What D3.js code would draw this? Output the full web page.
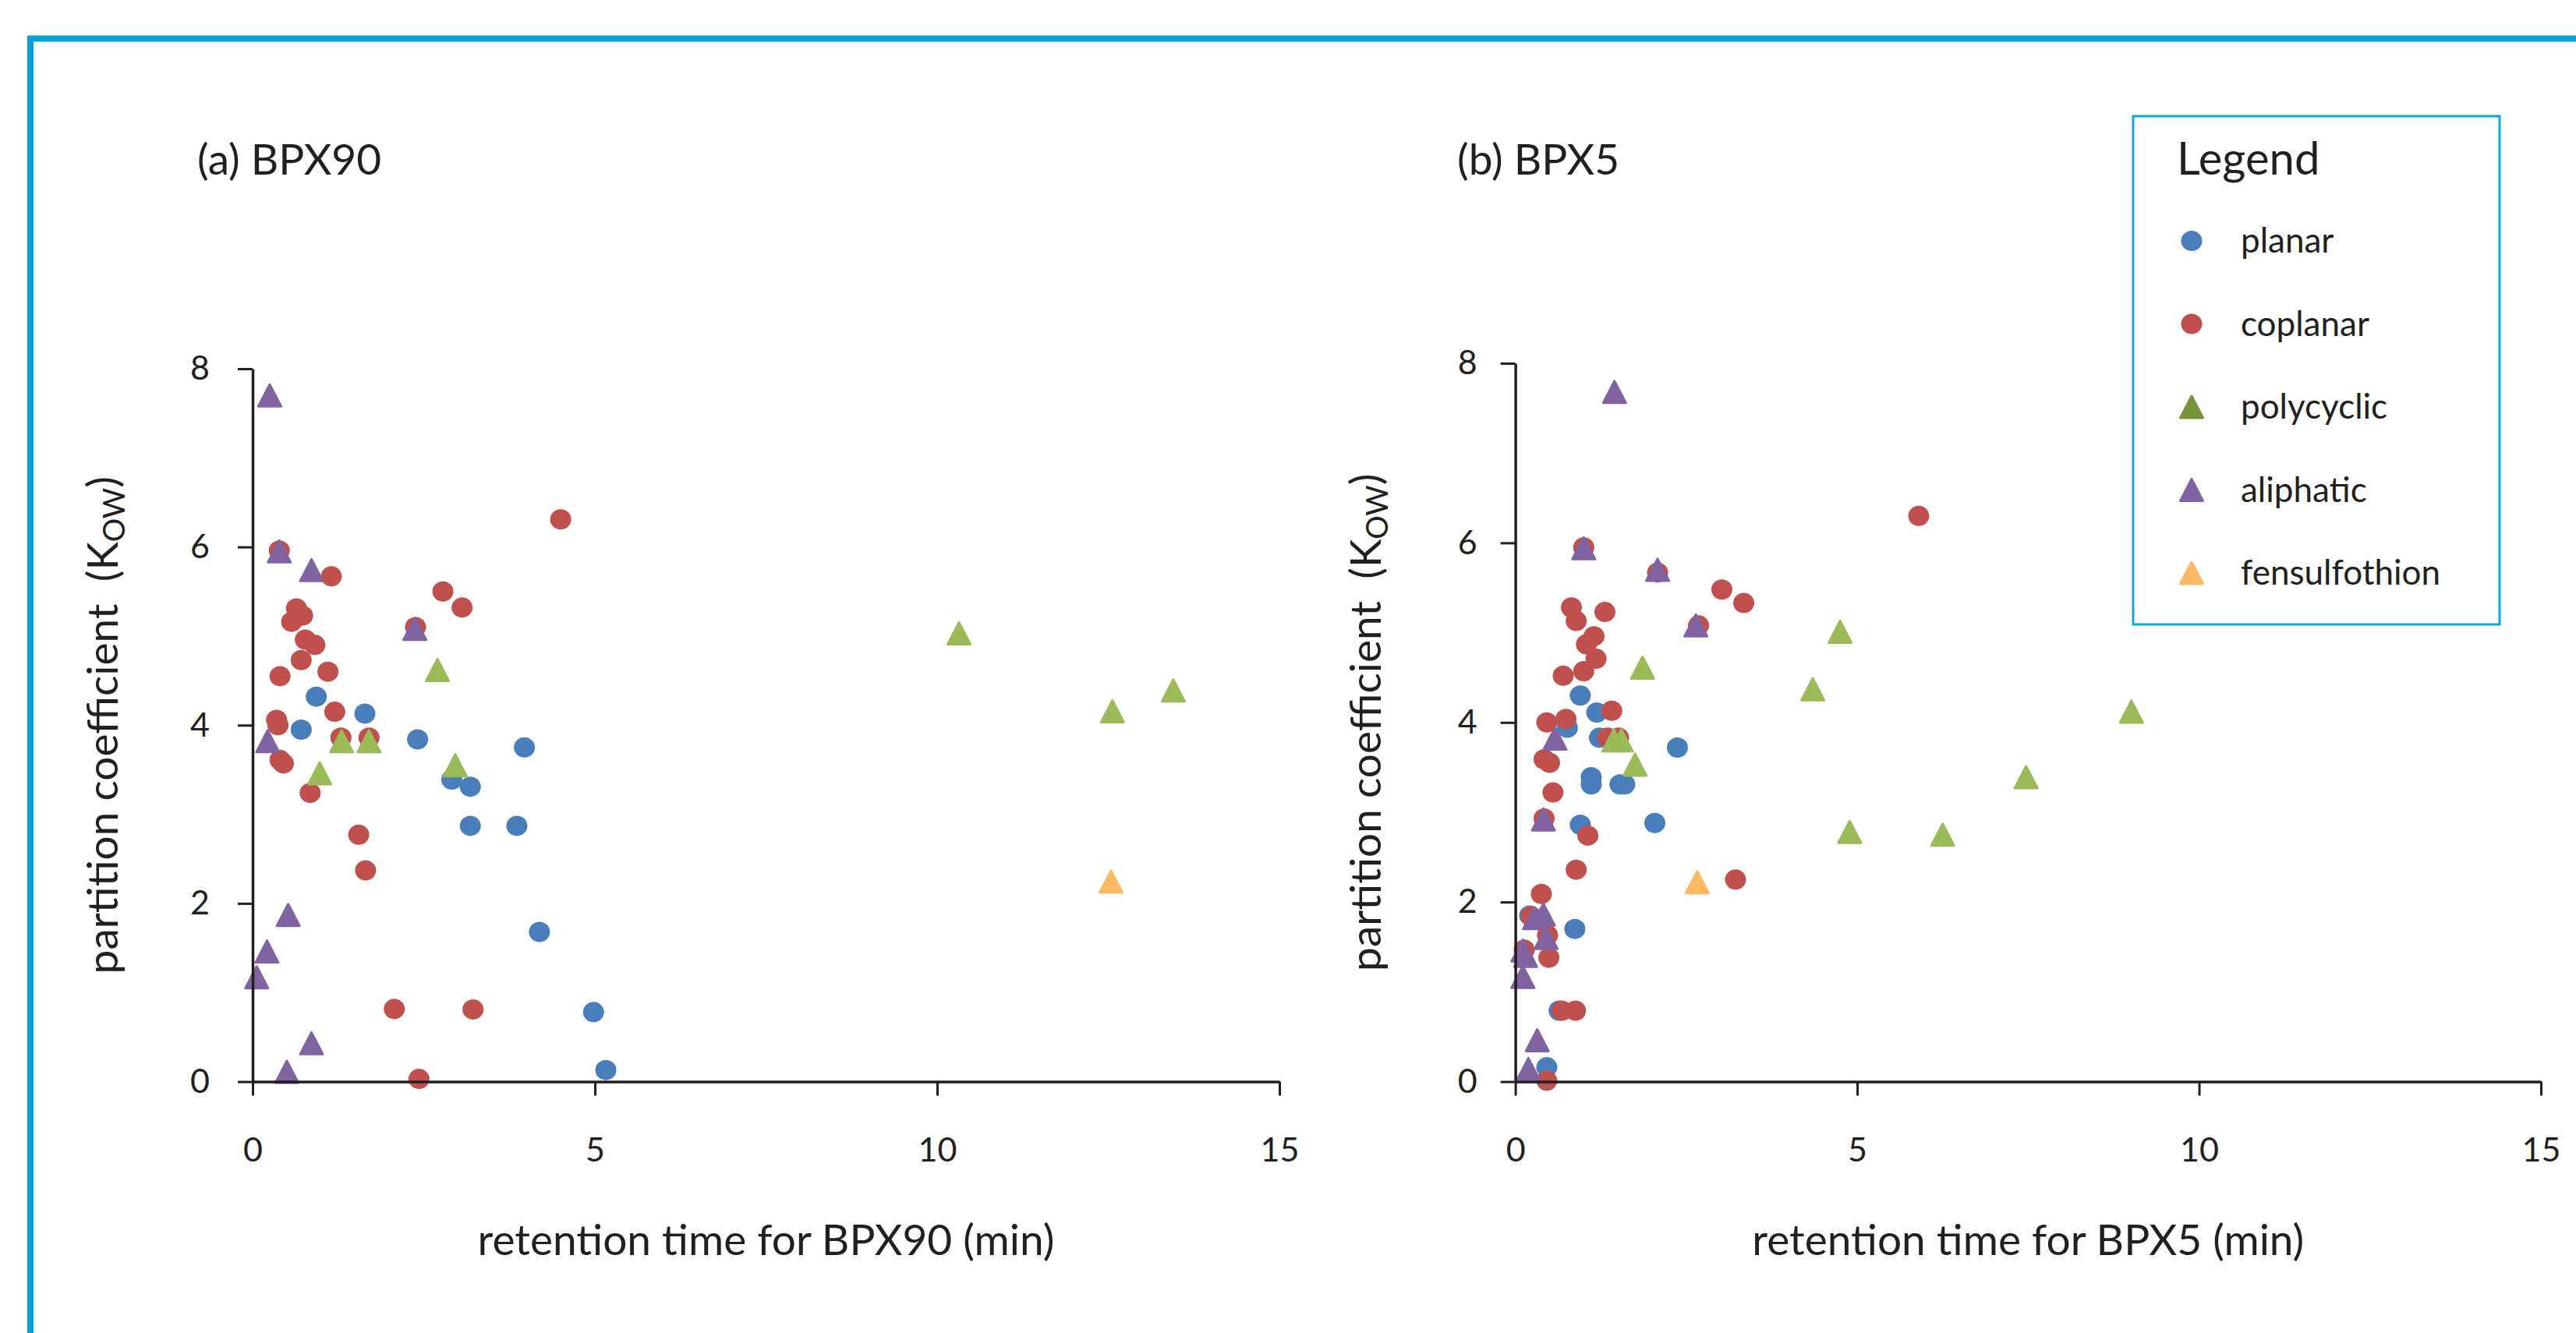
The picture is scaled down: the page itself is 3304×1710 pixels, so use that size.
<!DOCTYPE html>
<html><head><meta charset="utf-8">
<script src="https://cdn.jsdelivr.net/npm/d3@7"></script>
<style>
html,body{margin:0;padding:0;background:#fff;}
svg{display:block;}
text{font-family:Lato,"Open Sans",sans-serif;fill:#231F20;}
</style>
</head><body>
<svg id="chart" width="3304" height="1710"></svg>
<script>
// ---------- data ----------
const seriesNames = ["planar", "coplanar", "polycyclic", "aliphatic", "fensulfothion"];
const xTicks = [0, 5, 10, 15];
const yTicks = [0, 2, 4, 6, 8];
const panelTitles = ["(a) BPX90", "(b) BPX5"];
const xTitles = ["retention time for BPX90 (min)", "retention time for BPX5 (min)"];
const yTitle = ["partition coefficient \u00A0(K", "OW", ")"];

// (a) BPX90  [retention time, partition coefficient]
const bpx90Planar = [[0.93,4.32],[0.71,3.95],[1.64,4.13],[2.41,3.84],[2.91,3.39],[3.18,3.31],[3.18,2.87],[3.86,2.87],[3.97,3.75],[4.19,1.68],[4.98,0.78],[5.16,0.13]];
const bpx90Coplanar = [[0.39,5.96],[1.15,5.67],[0.64,5.31],[0.73,5.23],[0.57,5.16],[0.77,4.96],[0.91,4.90],[0.71,4.73],[1.10,4.60],[0.40,4.55],[1.20,4.15],[0.35,4.06],[0.37,4.00],[0.40,3.61],[0.45,3.57],[0.84,3.24],[1.29,3.86],[1.70,3.86],[2.38,5.10],[2.78,5.50],[3.06,5.32],[4.50,6.31],[1.55,2.77],[1.65,2.37],[2.07,0.815],[3.22,0.81],[2.43,0.03]];
const bpx90Polycyclic = [[1.30,3.82],[1.70,3.82],[0.98,3.46],[2.70,4.62],[2.96,3.55],[10.32,5.03],[12.56,4.155],[13.45,4.39]];
const bpx90Aliphatic = [[0.25,7.70],[0.39,5.95],[0.86,5.74],[2.37,5.08],[0.22,3.82],[0.52,1.87],[0.21,1.46],[0.06,1.17],[0.86,0.43],[0.50,0.11]];
const bpx90Fensulfothion = [[12.54,2.245]];

// (b) BPX5
const bpx5Planar = [[0.95,4.30],[1.19,4.11],[0.76,3.94],[1.23,3.83],[2.37,3.72],[1.11,3.39],[1.11,3.31],[1.53,3.31],[1.60,3.31],[0.95,2.86],[2.04,2.88],[0.87,1.70],[0.64,0.79],[0.46,0.16],[0.21,1.85]];
const bpx5Coplanar = [[5.90,6.30],[3.02,5.48],[3.34,5.33],[2.68,5.08],[2.08,5.67],[1.00,5.95],[0.82,5.28],[0.89,5.13],[1.31,5.23],[1.15,4.96],[1.04,4.87],[1.18,4.71],[1.00,4.57],[0.70,4.52],[1.41,4.13],[0.46,4.00],[0.74,4.04],[0.42,3.59],[0.50,3.55],[0.55,3.22],[1.35,3.83],[1.51,3.83],[0.42,2.93],[1.06,2.74],[0.89,2.36],[0.38,2.09],[0.23,1.84],[0.47,1.63],[0.13,1.47],[0.49,1.38],[0.68,0.79],[0.88,0.79],[0.46,0.01],[3.22,2.25]];
const bpx5Polycyclic = [[1.44,3.80],[1.55,3.80],[1.75,3.53],[1.86,4.61],[4.75,5.01],[4.35,4.37],[4.89,2.78],[6.25,2.75],[7.47,3.39],[9.01,4.12]];
const bpx5Aliphatic = [[1.45,7.68],[1.00,5.94],[2.08,5.70],[2.64,5.08],[0.58,3.82],[0.41,2.92],[0.28,1.82],[0.41,1.86],[0.45,1.60],[0.11,1.46],[0.15,1.40],[0.11,1.165],[0.32,0.46],[0.19,0.14]];
const bpx5Fensulfothion = [[2.66,2.22]];

// ---------- styles ----------
const seriesColor = {planar:"#4A7EBB", coplanar:"#C0504D", polycyclic:"#9BBB59", aliphatic:"#8064A2", fensulfothion:"#FDB963"};
const legendColor = {planar:"#4A7EBB", coplanar:"#C0504D", polycyclic:"#77933C", aliphatic:"#8064A2", fensulfothion:"#FDB963"};
const seriesShape = {planar:"circle", coplanar:"circle", polycyclic:"triangle", aliphatic:"triangle", fensulfothion:"triangle"};
const ink = "#231F20";

const svg = d3.select("#chart");

// outer frame
svg.append("rect").attr("x",39).attr("y",49.5).attr("width",4000).attr("height",3000)
  .attr("fill","none").attr("stroke","#079FDB").attr("stroke-width",8);

function drawMarker(g, shape, color, cx, cy) {
  if (shape === "circle") {
    g.append("ellipse").attr("cx",cx).attr("cy",cy).attr("rx",13.5).attr("ry",13).attr("fill",color);
  } else {
    const hw = 14.5, h = 28;
    g.append("path")
      .attr("d", `M${cx},${cy-h/2}L${cx+hw},${cy+h/2}L${cx-hw},${cy+h/2}Z`)
      .attr("fill",color).attr("stroke",color).attr("stroke-width",3).attr("stroke-linejoin","round");
  }
}

const panels = [
  {x0:324, x1:1641, yb:1387.5, yt:473, yPad:36, title:panelTitles[0], xTitle:xTitles[0], titleX:253,
   data:[bpx90Planar,bpx90Coplanar,bpx90Polycyclic,bpx90Aliphatic,bpx90Fensulfothion]},
  {x0:1943.6, x1:3259, yb:1387.5, yt:466, yPad:30, title:panelTitles[1], xTitle:xTitles[1], titleX:1869,
   data:[bpx5Planar,bpx5Coplanar,bpx5Polycyclic,bpx5Aliphatic,bpx5Fensulfothion]}
];

panels.forEach(p => {
  const x = d3.scaleLinear().domain([0,15]).range([p.x0, p.x1]);
  const y = d3.scaleLinear().domain([0,8]).range([p.yb, p.yt]);
  const g = svg.append("g");

  // markers
  seriesNames.forEach((name, i) => {
    const sg = g.append("g").attr("class","series-"+name);
    p.data[i].forEach(d => drawMarker(sg, seriesShape[name], seriesColor[name], x(d[0]), y(d[1])));
  });

  // y axis
  const ya = g.append("g").attr("transform",`translate(${p.x0},0)`)
    .call(d3.axisLeft(y).tickValues(yTicks).tickSize(19).tickSizeOuter(0).tickPadding(p.yPad).tickFormat(d3.format("d")));
  // x axis
  const xa = g.append("g").attr("transform",`translate(0,${p.yb})`)
    .call(d3.axisBottom(x).tickValues(xTicks).tickSize(18).tickSizeOuter(0).tickFormat(d3.format("d")));
  [ya, xa].forEach(a => {
    a.select(".domain").attr("stroke",ink).attr("stroke-width",3.5);
    a.selectAll(".tick line").attr("stroke",ink).attr("stroke-width",3);
    a.selectAll(".tick text").attr("fill",ink).style("font-size","43px").style("font-family","Lato");
  });
  xa.selectAll(".tick text").attr("y",102).attr("dy","0");

  // panel title
  svg.append("text").attr("x",p.titleX).attr("y",224).style("font-size","55px").text(p.title);

  // x title
  svg.append("text").attr("x",(p.x0+p.x1)/2).attr("y",1610).attr("text-anchor","middle")
    .style("font-size","55px").text(p.xTitle);

  // y title
  const ty = (p.yb+p.yt)/2;
  const yt = svg.append("text").attr("transform",`translate(${p.x0-173},${ty}) rotate(-90)`)
    .attr("text-anchor","middle").style("font-size","55px");
  yt.append("tspan").text(yTitle[0]);
  yt.append("tspan").attr("dy",9).style("font-size","38px").text(yTitle[1]);
  yt.append("tspan").attr("dy",-9).text(yTitle[2]);
});

// legend
const lg = svg.append("g");
lg.append("rect").attr("x",2736).attr("y",149).attr("width",470).attr("height",652)
  .attr("fill","#fff").attr("stroke","#12A5E0").attr("stroke-width",3);
lg.append("text").attr("x",2792).attr("y",224).style("font-size","58px").text("Legend");
seriesNames.forEach((name, i) => {
  const cy = 309 + i*106.5;
  drawMarker(lg, seriesShape[name], legendColor[name], 2811, cy);
  lg.append("text").attr("x",2874).attr("y",cy+15).style("font-size","44px").text(name);
});
</script>
</body></html>
